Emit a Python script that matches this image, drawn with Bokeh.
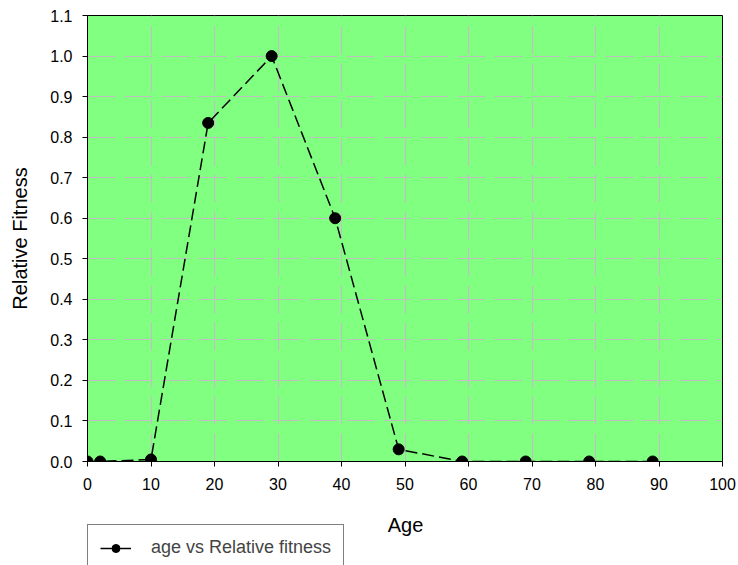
from bokeh.plotting import figure
from bokeh.layouts import column
from bokeh.models import (ColumnDataSource, Range1d, FixedTicker, Legend, LegendItem,
                          NumeralTickFormatter, Label)
from bokeh.embed import file_html
from bokeh.resources import INLINE

# Age (years) and relative fitness
age = [0, 2, 10, 19, 29, 39, 49, 59, 69, 79, 89]
relative_fitness = [0.0, 0.0, 0.005, 0.835, 1.0, 0.60, 0.03, 0.0, 0.0, 0.0, 0.0]

x_ticks = [0, 10, 20, 30, 40, 50, 60, 70, 80, 90, 100]
y_ticks = [0.0, 0.1, 0.2, 0.3, 0.4, 0.5, 0.6, 0.7, 0.8, 0.9, 1.0, 1.1]

x_title = "Age"
y_title = "Relative Fitness"
series_name = "age vs Relative fitness"

FONT = "Liberation Sans"
W = 738
H_MAIN = 505
H_FOOT = 60

src = ColumnDataSource(data=dict(age=age, fitness=relative_fitness))

p = figure(
    width=W, height=H_MAIN,
    x_range=Range1d(0, 100), y_range=Range1d(0, 1.1),
    output_backend="svg", toolbar_location=None,
    min_border_left=87, min_border_right=16,
    min_border_top=15, min_border_bottom=44,
)
p.background_fill_color = "#80ff80"
p.border_fill_color = "white"
p.outline_line_color = "black"
p.outline_line_width = 1

# dashed grey grid
for g in (p.xgrid, p.ygrid):
    g.grid_line_color = "#c0c0c0"
    g.grid_line_width = 1.2
    g.grid_line_dash = "28 9"

p.xaxis.ticker = FixedTicker(ticks=x_ticks)
p.yaxis.ticker = FixedTicker(ticks=y_ticks)
p.yaxis.formatter = NumeralTickFormatter(format="0.0")

for ax in (p.xaxis, p.yaxis):
    ax.axis_line_color = "black"
    ax.major_tick_line_color = "black"
    ax.major_tick_out = 5
    ax.major_tick_in = 0
    ax.minor_tick_line_color = None
    ax.major_label_text_font = FONT
    ax.major_label_text_font_size = "16px"
    ax.major_label_text_color = "black"
    ax.axis_label_text_font = FONT
    ax.axis_label_text_font_size = "20px"
    ax.axis_label_text_font_style = "normal"
    ax.axis_label_text_color = "black"

p.yaxis.axis_label = y_title
p.xaxis.major_label_standoff = 11
p.yaxis.major_label_standoff = 10
p.yaxis.axis_label_standoff = 16

# dashed series line with filled markers
p.line("age", "fitness", source=src, line_color="black", line_width=1.5, line_dash="12 5")
p.scatter("age", "fitness", source=src, marker="circle", size=11,
          fill_color="black", line_color="black")

# footer strip (frame aligned with the chart above): x-axis title and legend
q = figure(
    width=W, height=H_FOOT,
    x_range=Range1d(0, 1), y_range=Range1d(0, 1),
    output_backend="svg", toolbar_location=None,
    x_axis_location=None, y_axis_location=None,
    min_border=0,
)
q.grid.visible = False
q.outline_line_color = None
q.background_fill_color = "white"
q.border_fill_color = "white"

q.add_layout(Label(
    x=318, y=41, x_units="screen", y_units="screen", text=x_title,
    text_font=FONT, text_font_size="20px", text_color="black",
    text_align="center", text_baseline="middle",
))

# legend key: solid line with a marker (NaN point, so nothing is plotted)
key_src = ColumnDataSource(data=dict(x=[float("nan")], y=[float("nan")]))
key_line = q.line("x", "y", source=key_src, line_color="black", line_width=1.5)
key_dot = q.scatter("x", "y", source=key_src, marker="circle", size=10,
                    fill_color="black", line_color="black")

legend = Legend(
    items=[LegendItem(label=series_name, renderers=[key_line, key_dot])],
    location=(0, -6),
    border_line_color="black", border_line_width=1,
    background_fill_color="white", background_fill_alpha=1,
    label_text_font=FONT, label_text_font_size="18px",
    glyph_width=31, glyph_height=20, label_standoff=20,
    padding=12, margin=0,
)
q.add_layout(legend, "center")

layout = column(p, q, spacing=0)
open("out.html", "w").write(file_html(layout, INLINE))
